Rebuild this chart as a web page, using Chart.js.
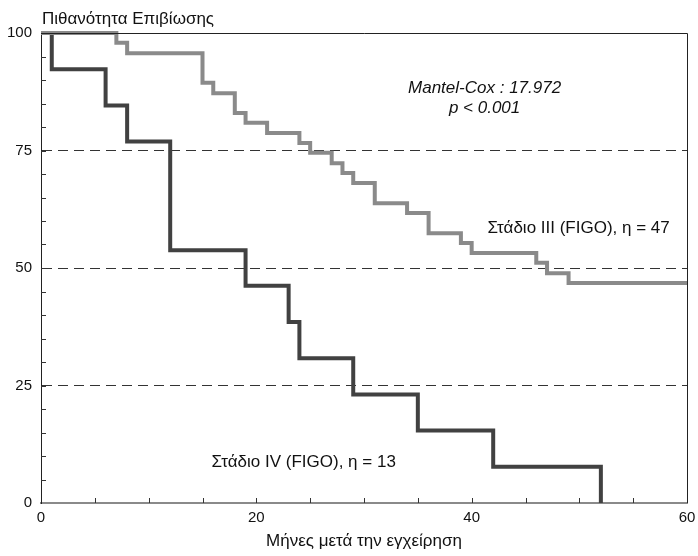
<!DOCTYPE html>
<html lang="el">
<head>
<meta charset="utf-8">
<title>Καμπύλες επιβίωσης Kaplan-Meier</title>
<script src="https://cdn.jsdelivr.net/npm/chart.js@4/dist/chart.umd.min.js"></script>
<style>
    html, body { margin: 0; padding: 0; background: #fff; }
    #contenedor { width: 698px; height: 556px; position: relative; }
</style>
</head>
<body>
<div id="contenedor">
    <canvas id="graficoSupervivencia" width="698" height="556"></canvas>
</div>
<script>
// Datos (meses / probabilidad de supervivencia %)
const mesesEstadioIII = [0, 7, 8, 15, 16, 18, 19, 21, 24, 25, 27, 28, 29, 31, 34, 36, 39, 40, 46, 47, 49, 60];
const supervivenciaEstadioIII = [100, 97.9, 95.7, 89.4, 87.2, 83.0, 80.9, 78.7, 76.6, 74.5, 72.3, 70.2, 68.1, 63.8, 61.7, 57.4, 55.3, 53.2, 51.1, 48.9, 46.8, 46.8];

const mesesEstadioIV = [0, 1, 6, 8, 12, 19, 23, 24, 29, 35, 42, 52];
const supervivenciaEstadioIV = [100, 92.3, 84.6, 76.9, 53.8, 46.2, 38.5, 30.8, 23.1, 15.4, 7.7, 0];

const etiquetasY = [0, 25, 50, 75, 100];
const etiquetasX = [0, 20, 40, 60];

const tituloY = 'Πιθανότητα Επιβίωσης';
const tituloX = 'Μήνες μετά την εγχείρηση';
const textoEstadioIII = 'Στάδιο III (FIGO), η = 47';
const textoEstadioIV = 'Στάδιο IV (FIGO), η = 13';
const textoMantelCox = 'Mantel-Cox : 17.972';
const textoValorP = 'p < 0.001';

const fuente = 'Arial, "Liberation Sans", sans-serif';

function aPuntos(meses, valores) {
    return meses.map((m, i) => ({ x: m, y: valores[i] }));
}

// Marco, marcas interiores y textos
const pluginDecoracion = {
    id: 'decoracion',
    afterDraw(chart) {
        const { ctx, chartArea, scales } = chart;
        ctx.save();

        // borde superior y derecho
        ctx.strokeStyle = '#222';
        ctx.lineWidth = 1;
        ctx.beginPath();
        ctx.moveTo(chartArea.left, chartArea.top + 0.5);
        ctx.lineTo(chartArea.right + 0.5, chartArea.top + 0.5);
        ctx.lineTo(chartArea.right + 0.5, chartArea.bottom);
        ctx.stroke();

        // marcas hacia dentro cada 5 unidades
        ctx.strokeStyle = '#333';
        ctx.beginPath();
        for (let v = 5; v < 100; v += 5) {
            const py = Math.round(scales.y.getPixelForValue(v)) + 0.5;
            ctx.moveTo(chartArea.left, py);
            ctx.lineTo(chartArea.left + 5, py);
        }
        for (let m = 5; m < 60; m += 5) {
            const px = Math.round(scales.x.getPixelForValue(m)) + 0.5;
            ctx.moveTo(px, chartArea.bottom);
            ctx.lineTo(px, chartArea.bottom - 5);
        }
        ctx.stroke();

        ctx.fillStyle = '#111';
        ctx.textBaseline = 'middle';

        ctx.font = '17px ' + fuente;
        ctx.textAlign = 'left';
        ctx.fillText(tituloY, chartArea.left + 1, chartArea.top - 14);

        ctx.font = 'italic 17px ' + fuente;
        ctx.textAlign = 'center';
        ctx.fillText(textoMantelCox, scales.x.getPixelForValue(41.2), scales.y.getPixelForValue(88.3));
        ctx.fillText(textoValorP, scales.x.getPixelForValue(41.2), scales.y.getPixelForValue(84));

        ctx.font = '17px ' + fuente;
        ctx.textAlign = 'right';
        ctx.fillText(textoEstadioIII, scales.x.getPixelForValue(58.4), scales.y.getPixelForValue(58.5));
        ctx.textAlign = 'center';
        ctx.fillText(textoEstadioIV, scales.x.getPixelForValue(24.4), scales.y.getPixelForValue(8.7));

        ctx.restore();
    }
};

const ctx = document.getElementById('graficoSupervivencia');

new Chart(ctx, {
    type: 'line',
    data: {
        datasets: [
            {
                label: textoEstadioIII,
                data: aPuntos(mesesEstadioIII, supervivenciaEstadioIII),
                borderColor: '#8a8a8a',
                borderWidth: 4,
                stepped: 'before',
                pointRadius: 0,
                fill: false,
                clip: 6
            },
            {
                label: textoEstadioIV,
                data: aPuntos(mesesEstadioIV, supervivenciaEstadioIV),
                borderColor: '#414141',
                borderWidth: 4,
                stepped: 'before',
                pointRadius: 0,
                fill: false,
                clip: 6
            }
        ]
    },
    options: {
        responsive: false,
        animation: false,
        layout: {
            padding: { top: 33, right: 11, left: 0, bottom: 0 }
        },
        plugins: {
            legend: { display: false },
            tooltip: { enabled: false },
            title: { display: false }
        },
        scales: {
            x: {
                type: 'linear',
                min: 0,
                max: 60,
                afterFit: (scale) => {
                    scale.height = 53;
                    scale.paddingLeft = 0;
                    scale.paddingRight = 0;
                },
                ticks: {
                    stepSize: 20,
                    color: '#111',
                    padding: 6,
                    maxRotation: 0,
                    font: { family: fuente, size: 15 },
                    callback: (v) => etiquetasX.includes(v) ? String(v) : ''
                },
                grid: { display: false, drawTicks: false },
                border: { display: true, color: '#8a8a8a', width: 2 },
                title: {
                    display: true,
                    text: tituloX,
                    color: '#111',
                    font: { family: fuente, size: 17 },
                    padding: { top: 4, bottom: 4 }
                }
            },
            y: {
                type: 'linear',
                min: 0,
                max: 100,
                afterFit: (scale) => {
                    scale.width = 41;
                    scale.paddingTop = 0;
                    scale.paddingBottom = 0;
                },
                ticks: {
                    stepSize: 25,
                    color: '#111',
                    padding: 9,
                    font: { family: fuente, size: 15 },
                    callback: (v) => etiquetasY.includes(v) ? String(v) : ''
                },
                grid: {
                    drawTicks: false,
                    lineWidth: 1,
                    color: (c) => (c.tick && c.tick.value % 25 === 0 && c.tick.value < 100) ? '#333' : 'rgba(0,0,0,0)'
                },
                border: { display: true, color: '#222', width: 1, dash: [10, 6] }
            }
        }
    },
    plugins: [pluginDecoracion]
});
</script>
</body>
</html>
